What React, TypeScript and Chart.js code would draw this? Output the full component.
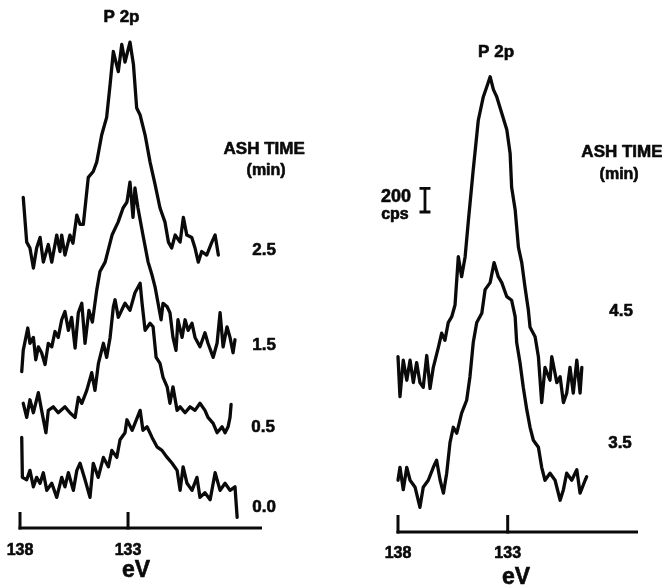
import React, { useEffect, useRef } from "react";
import { Chart, registerables } from "chart.js";

Chart.register(...registerables);

const FONT = '"Liberation Sans", "Helvetica Neue", Arial, sans-serif';
const INK = "#0a0a0a";

// Binding-energy ticks on both panels (eV)
const EV_TICKS = [138, 133];

// Left panel: P 2p spectra after 2.5 / 1.5 / 0.5 / 0.0 min ashing (stacked, cps)
const ash25Energy = [137.85, 137.69, 137.54, 137.38, 137.23, 137.07, 136.92, 136.69, 136.53, 136.30, 136.15, 136.07, 135.92, 135.69, 135.55, 135.37, 135.22, 135.07, 134.84, 134.61, 134.45, 134.22, 133.99, 133.83, 133.68, 133.45, 133.29, 133.14, 132.91, 132.75, 132.60, 132.44, 132.21, 131.98, 131.75, 131.52, 131.29, 131.13, 130.98, 130.82, 130.59, 130.44, 130.28, 130.05, 129.90, 129.75, 129.59, 129.36, 129.12, 128.97, 128.82];
const ash25Counts = [2810, 2430, 2380, 2210, 2380, 2470, 2260, 2410, 2260, 2490, 2350, 2490, 2320, 2490, 2420, 2660, 2580, 2580, 2980, 3030, 3110, 3340, 3490, 3770, 4050, 3880, 4110, 3960, 4130, 3940, 3570, 3510, 3340, 3110, 2920, 2720, 2600, 2430, 2380, 2490, 2430, 2640, 2490, 2470, 2380, 2260, 2350, 2320, 2430, 2490, 2320];

const ash15Energy = [137.92, 137.85, 137.64, 137.54, 137.38, 137.27, 137.15, 137.00, 136.84, 136.69, 136.53, 136.38, 136.23, 136.07, 135.92, 135.76, 135.61, 135.45, 135.30, 135.14, 134.99, 134.81, 134.65, 134.45, 134.30, 134.06, 133.74, 133.46, 133.23, 133.05, 132.91, 132.77, 132.68, 132.54, 132.31, 132.07, 131.89, 131.75, 131.61, 131.47, 131.38, 131.19, 131.06, 130.92, 130.78, 130.69, 130.50, 130.36, 130.22, 130.04, 129.90, 129.67, 129.44, 129.30, 129.06, 128.88, 128.74, 128.60, 128.42, 128.28, 128.14, 128.05];
const ash15Counts = [1330, 1510, 1700, 1570, 1620, 1430, 1540, 1490, 1390, 1570, 1540, 1670, 1620, 1770, 1840, 1680, 1790, 1530, 1830, 1910, 1570, 1850, 1750, 2020, 2180, 2260, 2490, 2600, 2720, 2770, 2940, 2640, 2890, 2720, 2490, 2260, 2150, 2050, 1910, 1770, 1910, 1880, 1830, 1620, 1510, 1770, 1620, 1770, 1680, 1740, 1620, 1540, 1660, 1570, 1450, 1570, 1830, 1540, 1710, 1620, 1490, 1600];

const ash05Energy = [137.85, 137.69, 137.54, 137.38, 137.15, 137.00, 136.80, 136.69, 136.46, 136.23, 135.92, 135.69, 135.45, 135.30, 135.14, 134.91, 134.68, 134.53, 134.37, 134.14, 133.99, 133.83, 133.68, 133.60, 133.45, 133.22, 133.14, 132.91, 132.68, 132.44, 132.35, 132.21, 131.98, 131.84, 131.70, 131.52, 131.38, 131.19, 131.06, 130.92, 130.73, 130.59, 130.36, 130.13, 129.90, 129.67, 129.44, 129.30, 129.06, 128.88, 128.65, 128.51, 128.37, 128.28, 128.23];
const ash05Counts = [1060, 940, 1090, 980, 1150, 1000, 810, 1000, 1030, 980, 1030, 980, 940, 1110, 1060, 1170, 1320, 1170, 1400, 1570, 1450, 1620, 1880, 1940, 1790, 1880, 1910, 1850, 2000, 2080, 1910, 1680, 1740, 1710, 1450, 1400, 1280, 1200, 1060, 1200, 1000, 1030, 980, 1030, 1000, 1060, 1000, 940, 890, 810, 860, 810, 860, 940, 1050];

const ash00Energy = [137.92, 137.89, 137.69, 137.54, 137.38, 137.23, 137.07, 136.92, 136.76, 136.53, 136.30, 136.07, 135.92, 135.76, 135.53, 135.37, 135.22, 134.99, 134.76, 134.61, 134.38, 134.14, 133.91, 133.75, 133.52, 133.37, 133.14, 133.05, 132.81, 132.68, 132.44, 132.31, 132.12, 131.89, 131.66, 131.43, 131.19, 130.96, 130.73, 130.59, 130.45, 130.27, 130.04, 129.81, 129.67, 129.44, 129.20, 128.97, 128.74, 128.51, 128.28, 128.05, 127.95];
const ash00Counts = [770, 430, 410, 490, 350, 430, 380, 470, 320, 380, 260, 430, 350, 470, 320, 490, 550, 410, 260, 550, 430, 600, 520, 660, 600, 750, 810, 920, 830, 890, 1000, 830, 860, 770, 690, 660, 600, 550, 490, 320, 520, 380, 320, 430, 260, 300, 240, 470, 320, 380, 320, 350, 90];

// Right panel: P 2p spectra after 4.5 / 3.5 min ashing (stacked, cps)
const ash45Energy = [138.00, 137.91, 137.76, 137.60, 137.45, 137.30, 137.15, 137.00, 136.85, 136.69, 136.54, 136.39, 136.16, 136.01, 135.86, 135.71, 135.55, 135.40, 135.25, 135.10, 134.94, 134.79, 134.57, 134.34, 134.11, 133.96, 133.80, 133.65, 133.50, 133.27, 133.04, 132.89, 132.82, 132.66, 132.51, 132.36, 132.21, 132.06, 131.98, 131.75, 131.60, 131.45, 131.30, 131.07, 130.99, 130.76, 130.61, 130.46, 130.31, 130.16, 130.01, 129.85, 129.70, 129.62];
const ash45Counts = [1490, 1150, 1460, 1290, 1460, 1270, 1440, 1270, 1230, 1500, 1220, 1400, 1570, 1690, 1630, 1780, 1830, 1930, 2340, 2170, 2340, 2650, 3080, 3500, 3700, 3780, 3870, 3760, 3700, 3560, 3420, 3220, 2930, 2740, 2420, 2290, 2080, 1890, 1740, 1660, 1490, 1100, 1400, 1290, 1490, 1270, 1320, 1100, 1180, 1400, 1180, 1460, 1180, 1400];

const ash35Energy = [138.00, 137.91, 137.76, 137.60, 137.45, 137.22, 137.00, 136.85, 136.62, 136.39, 136.24, 136.08, 135.93, 135.78, 135.63, 135.48, 135.32, 135.10, 134.87, 134.72, 134.57, 134.41, 134.18, 134.03, 133.80, 133.62, 133.43, 133.27, 133.04, 132.82, 132.66, 132.59, 132.44, 132.29, 132.13, 131.98, 131.83, 131.60, 131.45, 131.30, 131.07, 130.84, 130.61, 130.46, 130.31, 130.08, 129.85, 129.70, 129.47, 129.40];
const ash35Counts = [440, 550, 360, 550, 440, 380, 210, 380, 440, 550, 610, 440, 330, 500, 760, 890, 840, 1010, 1120, 1320, 1610, 1780, 1860, 2060, 2120, 2290, 2170, 2120, 2000, 1970, 1830, 1610, 1440, 1230, 1040, 890, 780, 720, 550, 440, 500, 440, 270, 360, 500, 440, 530, 330, 440, 470];

type Note = { text: string; ev: number; cps: number; size: number };
type Trace = { label: string; energy: number[]; counts: number[] };

interface PanelSpec {
  left: number;
  width: number;
  height: number;
  padding: { left: number; right: number; top: number; bottom: number };
  evMin: number;
  cpsMax: number;
  traces: Trace[];
  notes: Note[];
  tickLength: number;
  tickLabelGap: number;
  titleGap: number;
  titleEv: number;
  scaleBar?: { ev: number; base: number; size: number };
}

const LEFT_PANEL: PanelSpec = {
  left: 0,
  width: 330,
  height: 588,
  padding: { left: 20, right: 68, top: 8, bottom: 60 },
  evMin: 126.8,
  cpsMax: 4420,
  traces: [
    { label: "2.5", energy: ash25Energy, counts: ash25Counts },
    { label: "1.5", energy: ash15Energy, counts: ash15Counts },
    { label: "0.5", energy: ash05Energy, counts: ash05Counts },
    { label: "0.0", energy: ash00Energy, counts: ash00Counts },
  ],
  notes: [
    { text: "P 2p", ev: 133.3, cps: 4340, size: 17 },
    { text: "ASH TIME", ev: 126.7, cps: 3220, size: 17 },
    { text: "(min)", ev: 126.61, cps: 3040, size: 16 },
    { text: "2.5", ev: 126.7, cps: 2360, size: 17 },
    { text: "1.5", ev: 126.7, cps: 1550, size: 17 },
    { text: "0.5", ev: 126.75, cps: 860, size: 17 },
    { text: "0.0", ev: 126.7, cps: 180, size: 17 },
  ],
  tickLength: 16,
  tickLabelGap: 23,
  titleGap: 43,
  titleEv: 132.63,
};

const RIGHT_PANEL: PanelSpec = {
  left: 330,
  width: 332,
  height: 588,
  padding: { left: 68, right: 24, top: 8, bottom: 56 },
  evMin: 127.06,
  cpsMax: 4454,
  traces: [
    { label: "4.5", energy: ash45Energy, counts: ash45Counts },
    { label: "3.5", energy: ash35Energy, counts: ash35Counts },
  ],
  notes: [
    { text: "P 2p", ev: 133.53, cps: 4080, size: 17 },
    { text: "ASH TIME", ev: 127.79, cps: 3230, size: 17 },
    { text: "(min)", ev: 127.92, cps: 3040, size: 16 },
    { text: "4.5", ev: 127.83, cps: 1880, size: 17 },
    { text: "3.5", ev: 127.88, cps: 750, size: 17 },
    { text: "200", ev: 138.09, cps: 2850, size: 18 },
    { text: "cps", ev: 138.14, cps: 2700, size: 16 },
  ],
  tickLength: 17,
  tickLabelGap: 22,
  titleGap: 46,
  titleEv: 132.62,
  scaleBar: { ev: 136.77, base: 2720, size: 200 },
};

// Bold text with a thin outline so the lettering carries the same weight as the traces
function heavyText(ctx: CanvasRenderingContext2D, text: string, x: number, y: number) {
  ctx.fillText(text, x, y);
  ctx.strokeText(text, x, y);
}

// Draws the energy axis (ticks pointing up), labels, annotations and intensity bar
function makeDecor(spec: PanelSpec) {
  return {
    id: "spectrumDecor",
    afterDatasetsDraw(chart: any) {
      const { ctx, chartArea } = chart;
      const xs = chart.scales.x;
      const ys = chart.scales.y;
      const base = chartArea.bottom;
      ctx.save();
      ctx.strokeStyle = INK;
      ctx.fillStyle = INK;
      ctx.lineCap = "butt";
      ctx.lineWidth = 3;

      const x0 = xs.getPixelForValue(EV_TICKS[0]);
      ctx.beginPath();
      ctx.moveTo(x0 - 1.5, base);
      ctx.lineTo(chartArea.right, base);
      ctx.stroke();

      EV_TICKS.forEach((v) => {
        const px = xs.getPixelForValue(v);
        ctx.beginPath();
        ctx.moveTo(px, base + 1.5);
        ctx.lineTo(px, base - spec.tickLength);
        ctx.stroke();
      });

      ctx.textAlign = "center";
      ctx.textBaseline = "middle";
      ctx.lineWidth = 0.6;
      ctx.lineJoin = "round";
      ctx.font = `bold 16px ${FONT}`;
      EV_TICKS.forEach((v) => {
        heavyText(ctx, String(v), xs.getPixelForValue(v), base + spec.tickLabelGap);
      });

      ctx.font = `bold 23px ${FONT}`;
      heavyText(ctx, "eV", xs.getPixelForValue(spec.titleEv), base + spec.titleGap);

      spec.notes.forEach((n) => {
        ctx.font = `bold ${n.size}px ${FONT}`;
        heavyText(ctx, n.text, xs.getPixelForValue(n.ev), ys.getPixelForValue(n.cps));
      });

      if (spec.scaleBar) {
        const bx = xs.getPixelForValue(spec.scaleBar.ev);
        const yb = ys.getPixelForValue(spec.scaleBar.base);
        const yt = ys.getPixelForValue(spec.scaleBar.base + spec.scaleBar.size);
        ctx.lineWidth = 2.8;
        ctx.beginPath();
        ctx.moveTo(bx, yb);
        ctx.lineTo(bx, yt);
        ctx.moveTo(bx - 5.5, yb);
        ctx.lineTo(bx + 5.5, yb);
        ctx.moveTo(bx - 5.5, yt);
        ctx.lineTo(bx + 5.5, yt);
        ctx.stroke();
      }
      ctx.restore();
    },
  };
}

function Panel({ spec }: { spec: PanelSpec }) {
  const canvasRef = useRef<HTMLCanvasElement | null>(null);

  useEffect(() => {
    const canvas = canvasRef.current;
    if (!canvas) return;
    const chart = new Chart(canvas, {
      type: "line",
      data: {
        datasets: spec.traces.map((t) => ({
          label: t.label,
          data: t.energy
            .slice(0, Math.min(t.energy.length, t.counts.length))
            .map((e, i) => ({ x: e, y: t.counts[i] })),
          borderColor: INK,
          borderWidth: 3.3,
          pointRadius: 0,
          tension: 0,
          fill: false,
          borderJoinStyle: "round" as const,
          borderCapStyle: "round" as const,
          clip: 6,
        })),
      },
      options: {
        animation: false,
        responsive: false,
        devicePixelRatio: 1,
        events: [],
        layout: { padding: spec.padding },
        plugins: {
          legend: { display: false },
          tooltip: { enabled: false },
        },
        scales: {
          x: { type: "linear", reverse: true, min: spec.evMin, max: EV_TICKS[0], display: false },
          y: { type: "linear", min: 0, max: spec.cpsMax, display: false },
        },
      },
      plugins: [makeDecor(spec)],
    });
    return () => chart.destroy();
  }, [spec]);

  return (
    <canvas
      ref={canvasRef}
      width={spec.width}
      height={spec.height}
      style={{
        position: "absolute",
        left: spec.left,
        top: 0,
        width: spec.width,
        height: spec.height,
      }}
    />
  );
}

export default function App() {
  return (
    <div
      style={{
        position: "fixed",
        left: 0,
        top: 0,
        width: 662,
        height: 588,
        background: "#ffffff",
        overflow: "hidden",
      }}
    >
      <Panel spec={LEFT_PANEL} />
      <Panel spec={RIGHT_PANEL} />
    </div>
  );
}
